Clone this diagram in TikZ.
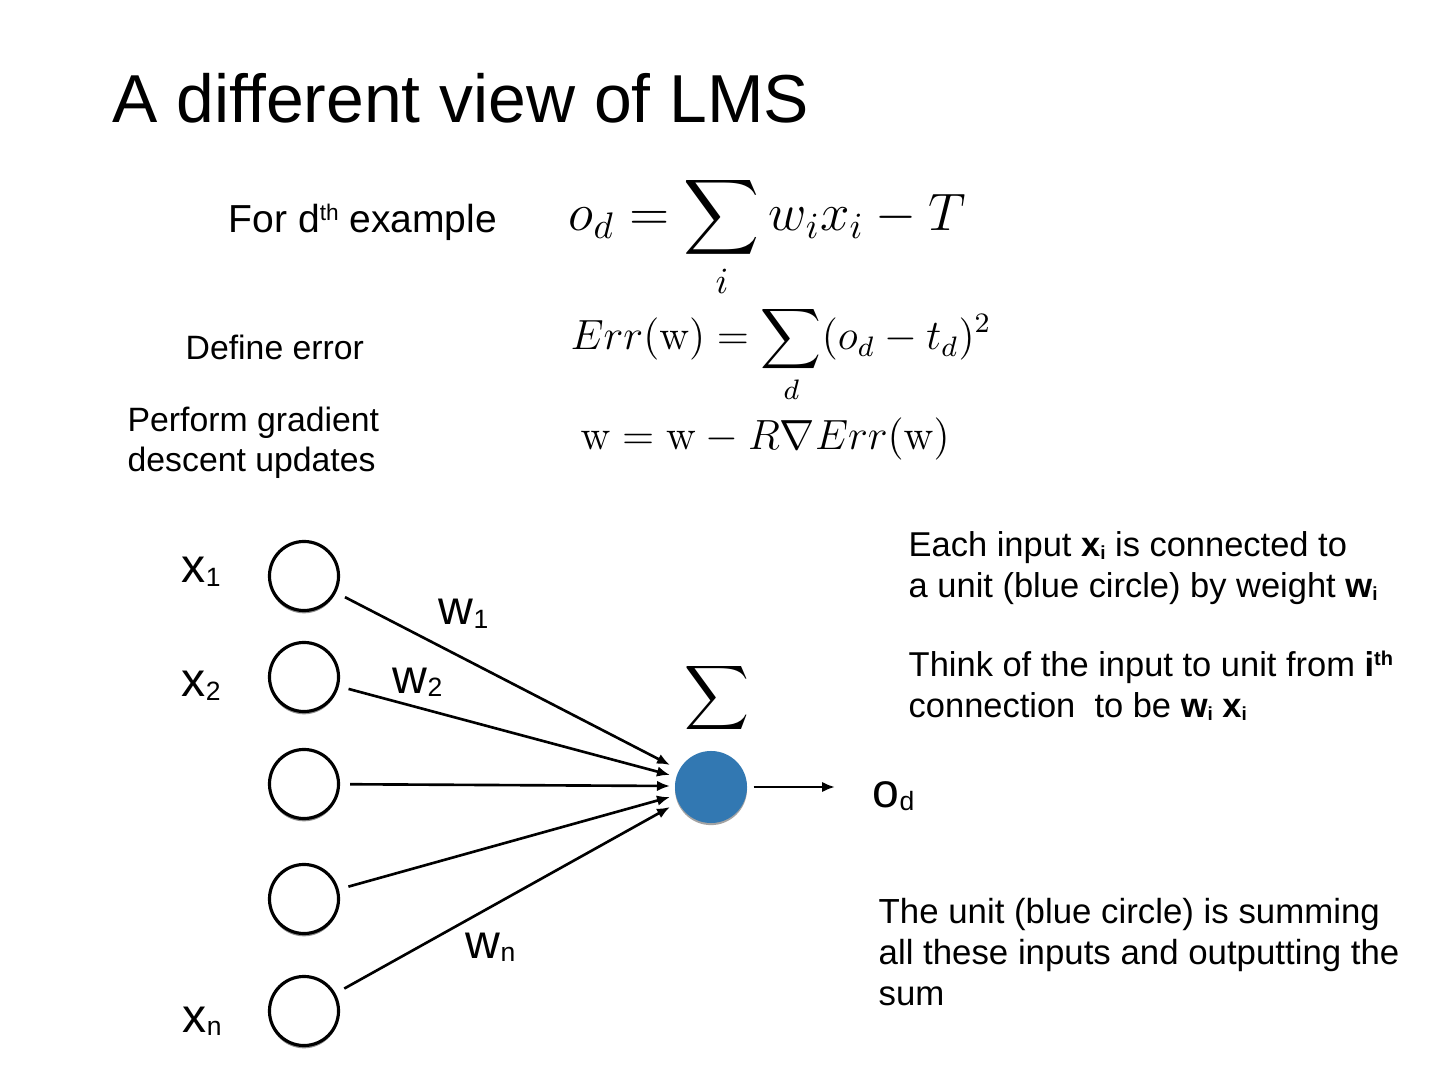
\RequirePackage{fix-cm}
\documentclass[tikz,border=0pt]{standalone}
\usepackage{amsmath}
\usepackage{amssymb}
\usepackage[no-math]{fontspec}
\setmainfont{Liberation Sans}
\usetikzlibrary{calc,backgrounds,arrows.meta,shadows}
\definecolor{unitblue}{RGB}{50,120,178}
\newcommand{\lsub}[1]{\raisebox{-0.12ex}{\scalebox{0.55}{#1}}}
\newcommand{\lsup}[1]{\raisebox{0.6ex}{\scalebox{0.58}{#1}}}

\begin{document}
\begin{tikzpicture}[%
    x=0.01cm,y=-0.01cm,%
    show background rectangle,%
    tight background,%
    background rectangle/.style={fill=white},%
    inp/.style={circle,draw,fill=white,line width=0.9pt,minimum size=0.69cm,inner sep=0pt,%
      drop shadow={shadow xshift=0pt,shadow yshift=-0.8pt,fill=black!55,opacity=0.8}},%
    unit/.style={circle,fill=unitblue,minimum size=0.72cm,inner sep=0pt,%
      drop shadow={shadow xshift=0pt,shadow yshift=-0.6pt,fill=black!60,opacity=0.6}},%
    conn/.style={-{Latex[length=1.3mm,width=1.05mm]},line width=0.75pt,shorten <=0.1cm},%
    lbl/.style={anchor=base west,inner sep=0pt,font=\fontsize{13.7}{16}\selectfont},%
    txt/.style={anchor=base west,inner sep=0pt,align=left,font=\fontsize{9.8}{11.7}\selectfont},%
    eqn/.style={anchor=base west,inner sep=0pt,font=\fontsize{12}{14}\selectfont}%
    ]
  \useasboundingbox (0,0) rectangle (1440,1080);%

  % Textes (ancre = ligne de base de la derniere ligne)
  \node[anchor=base west,inner sep=0pt,font=\fontsize{19.3}{22}\selectfont] (title) at (112,123) {A different view of LMS};%
  \node[anchor=base west,inner sep=0pt,font=\fontsize{11.1}{13}\selectfont] (forex) at (228,233) {For d\lsup{th} example};%
  \node[txt,font=\fontsize{9.6}{11.4}\selectfont] (deferr) at (185,360) {Define error};%
  \node[txt,font=\fontsize{9.6}{11.4}\selectfont] (grad) at (127,472) {Perform gradient\\descent updates};%

  % Formules
  \node[eqn,font=\fontsize{15}{18}\selectfont] (eqout) at (568,231) {$\displaystyle o_d = \sum_i w_i x_i - T$};%
  \node[eqn] (eqerr) at (570,350) {$\displaystyle Err(\mathrm{w}) = \sum_d (o_d - t_d)^2$};%
  \node[eqn] (equpd) at (580,450) {$\mathrm{w} = \mathrm{w} - R\nabla Err(\mathrm{w})$};%

  % Neurones
  \node[inp] (in1) at (304,576) {};%
  \node[inp] (in2) at (304,677) {};%
  \node[inp] (in3) at (304,784) {};%
  \node[inp] (in4) at (304,899) {};%
  \node[inp] (in5) at (304,1011) {};%
  \node[unit] (sum) at (711,787) {};%
  \node[font=\fontsize{12.8}{15}\selectfont] (sig) at (717,698) {$\displaystyle\sum$};%

  % Etiquettes
  \node[lbl] (x1) at (181,583) {x\lsub{1}};%
  \node[lbl] (x2) at (181,697) {x\lsub{2}};%
  \node[lbl] (xn) at (182,1032) {x\lsub{n}};%
  \node[lbl] (w1) at (438,625) {w\lsub{1}};%
  \node[lbl] (w2) at (392,693) {w\lsub{2}};%
  \node[lbl] (wn) at (465,958) {w\lsub{n}};%
  \node[lbl] (od) at (872,807) {o\lsub{d}};%

  % Coordonnées
  \coordinate (e1) at ($(sum)+(-41,-22)$);%
  \coordinate (e2) at ($(sum)+(-41,-12)$);%
  \coordinate (e3) at ($(sum)+(-41,-1)$);%
  \coordinate (e4) at ($(sum)+(-41,10)$);%
  \coordinate (e5) at ($(sum)+(-41,20)$);%
  \coordinate (out) at (835,787);%

  % Lignes
  \foreach \i in {1,...,5}{%
    \draw[conn] (in\i) -- (e\i);%
  }%
  \draw[conn,shorten <=0.06cm] (sum) -- (out);%

  % Explications
  \node[txt] (note1) at (908,598) {Each input \textbf{x\lsub{i}} is connected to\\a unit (blue circle) by weight \textbf{w\lsub{i}}};%
  \node[txt] (note2) at (908,718) {Think of the input to unit from \textbf{i\lsup{th}}\\connection\ \ to be \textbf{w\lsub{i} x\lsub{i}}};%
  \node[txt,font=\fontsize{9.9}{11.6}\selectfont] (note3) at (878,1005) {The unit (blue circle) is summing\\all these inputs and outputting the\\sum};%
\end{tikzpicture}
\end{document}
